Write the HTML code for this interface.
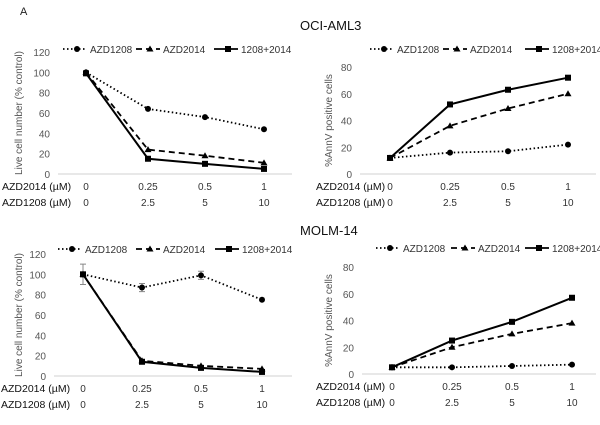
<!DOCTYPE html>
<html><head><meta charset="utf-8"><style>
body{margin:0;background:#fff;width:600px;height:420px;overflow:hidden;font-family:"Liberation Sans",sans-serif}
svg text{font-family:"Liberation Sans",sans-serif}
</style></head><body>
<svg id="fig" width="600" height="420">
<text x="20" y="15" font-size="11" fill="#222">A</text>
<text x="300" y="30" font-size="13" fill="#111">OCI-AML3</text>
<text x="300" y="235" font-size="13" fill="#111">MOLM-14</text>
</svg>
<script>
const cats2014 = ["0","0.25","0.5","1"];
const cats1208 = ["0","2.5","5","10"];
const seriesNames = ["AZD1208","AZD2014","1208+2014"];
const p1_1208 = [100,64,56,44];
const p1_2014 = [100,24,18,11];
const p1_combo = [99,15,10,5];
const p2_1208 = [12,16,17,22];
const p2_2014 = [12,36,49,60];
const p2_combo = [12,52,63,72];
const p3_1208 = [100,87,99,75];
const p3_err = [10,4,4,0];
const p3_2014 = [100,15,10,7];
const p3_combo = [100,14,8,4];
const p4_1208 = [5,5,6,7];
const p4_2014 = [5,20,30,38];
const p4_combo = [5,25,39,57];
const ticksViab = [0,20,40,60,80,100,120];
const ticksAnn = [0,20,40,60,80];

const NS="http://www.w3.org/2000/svg";
const svg=document.getElementById('fig');
function mk(tag,attrs,parent){const e=document.createElementNS(NS,tag);for(const k in attrs)e.setAttribute(k,attrs[k]);(parent||svg).appendChild(e);return e;}

const panels=[
 {id:'p1',ax0:58,ax1:292,xs:[86,148,205,264],y0:174,ymax:120,ytop:52,ticks:ticksViab,title:'Live cell number (% control)',tx:22,ly:49,lx:63,offs:[0,73,151],rx:2,data:[p1_1208,p1_2014,p1_combo],err:null},
 {id:'p2',ax0:360,ax1:596,xs:[390,450,508,568],y0:174,ymax:80,ytop:67,ticks:ticksAnn,title:'%AnnV positive cells',tx:332,ly:49,lx:370,offs:[0,73,155],rx:316,data:[p2_1208,p2_2014,p2_combo],err:null},
 {id:'p3',ax0:54,ax1:292,xs:[83,142,201,262],y0:376,ymax:120,ytop:254,ticks:ticksViab,title:'Live cell number (% control)',tx:22,ly:249,lx:58,offs:[0,78,157],rx:1,data:[p3_1208,p3_2014,p3_combo],err:p3_err},
 {id:'p4',ax0:362,ax1:596,xs:[392,452,512,572],y0:374,ymax:80,ytop:267,ticks:ticksAnn,title:'%AnnV positive cells',tx:332,ly:248,lx:376,offs:[0,75,149],rx:316,data:[p4_1208,p4_2014,p4_combo],err:null}
];
const dashes=["1.5,2.5","6,4",""];
const markers=["circle","tri","square"];

function marker(g,type,x,y,name){
  let e;
  if(type==='circle') e=mk('circle',{cx:x,cy:y,r:3,fill:'#000'},g);
  else if(type==='tri') e=mk('polygon',{points:`${x},${y-3.5} ${x-3.5},${y+2.5} ${x+3.5},${y+2.5}`,fill:'#000'},g);
  else e=mk('rect',{x:x-3,y:y-3,width:6,height:6,fill:'#000'},g);
  
  
}

panels.forEach(p=>{
  const g=mk('g',{});
  
  
  const yS=v=>p.y0-(v/p.ymax)*(p.y0-p.ytop);
  const ax=mk('line',{x1:p.ax0,x2:p.ax1,y1:p.y0,y2:p.y0,stroke:'#d0d0d0','stroke-width':1},g);
  
  
  p.ticks.forEach(t=>{
    const tl=mk('text',{x:p.ax0-8,y:yS(t)+4,'font-size':10,fill:'#555','text-anchor':'end'},g);
    tl.textContent=t;
    
    
  });
  const cy=(p.y0+p.ytop)/2;
  const yt=mk('text',{x:p.tx,y:cy,'font-size':10,fill:'#555','text-anchor':'middle',transform:`rotate(-90 ${p.tx} ${cy})`},g);
  yt.textContent=p.title;
  
  
  const r1=mk('text',{x:p.rx,y:p.y0+16,'font-size':10.5,fill:'#111'},g);
  r1.textContent='AZD2014 (µM)';
  
  
  const r2=mk('text',{x:p.rx,y:p.y0+32,'font-size':10.5,fill:'#111'},g);
  r2.textContent='AZD1208 (µM)';
  
  
  p.xs.forEach((x,i)=>{
    const a=mk('text',{x:x,y:p.y0+16,'font-size':10,fill:'#333','text-anchor':'middle'},g);
    a.textContent=cats2014[i];
    
    
    const b=mk('text',{x:x,y:p.y0+32,'font-size':10,fill:'#333','text-anchor':'middle'},g);
    b.textContent=cats1208[i];
    
    
  });
  if(p.err){
    p.err.forEach((e,i)=>{
      if(!e) return;
      const v=p.data[0][i],x=p.xs[i];
      const eb=mk('path',{d:`M${x},${yS(v-e)}V${yS(v+e)}M${x-3},${yS(v-e)}H${x+3}M${x-3},${yS(v+e)}H${x+3}`,stroke:'#888','stroke-width':1,fill:'none'},g);
      
      
    });
  }
  p.data.forEach((arr,s)=>{
    const pts=arr.map((v,i)=>p.xs[i]+','+yS(v)).join(' ');
    const pl=mk('polyline',{points:pts,fill:'none',stroke:'#000','stroke-width':s===2?2:1.8,'stroke-dasharray':dashes[s]},g);
    
    
    arr.forEach((v,i)=>marker(g,markers[s],p.xs[i],yS(v),'point'));
  });
  seriesNames.forEach((n,s)=>{
    const lx=p.lx+p.offs[s];
    const ll=mk('line',{x1:lx,x2:lx+24,y1:p.ly,y2:p.ly,stroke:'#000','stroke-width':1.8,'stroke-dasharray':dashes[s]},g);
    
    
    marker(g,markers[s],lx+14,p.ly,'legend-marker');
    const lt=mk('text',{x:lx+27,y:p.ly+4,'font-size':10,fill:'#333'},g);
    lt.textContent=n;
    
    
  });
});
</script>
</body></html>
